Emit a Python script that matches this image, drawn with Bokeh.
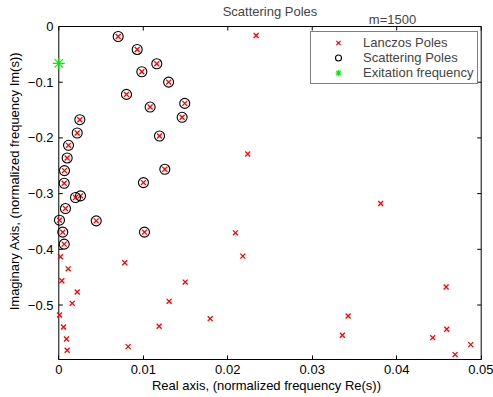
import math
from bokeh.plotting import figure
from bokeh.models import Range1d, Legend, LegendItem, Label, FixedTicker
from bokeh.embed import file_html
from bokeh.resources import INLINE

# Scattering poles (circled; also Lanczos poles)
scat_re = [0.00703, 0.00928, 0.0116, 0.00983, 0.0130, 0.00801, 0.01081, 0.01491, 0.0146,
           0.01192, 0.01255, 0.01002, 0.00249, 0.00218, 0.00115, 0.00099, 0.00067, 0.00064,
           0.00198, 0.00257, 0.00079, 0.00008, 0.00443, 0.00047, 0.01014, 0.00064]
scat_im = [-0.0179, -0.0412, -0.0669, -0.0812, -0.0998, -0.1219, -0.1446, -0.138, -0.163,
           -0.1966, -0.2563, -0.2802, -0.1673, -0.1912, -0.2133, -0.236, -0.2587, -0.2814,
           -0.307, -0.304, -0.3268, -0.3477, -0.3489, -0.3692, -0.3692, -0.3907]

# Additional Lanczos poles (not matched)
extra_re = [0.0002, 0.00111, 0.00036, 0.00218, 0.00159, 0.00008, 0.00056, 0.00091, 0.00099,
            0.00781, 0.00821, 0.01188, 0.01306, 0.01496, 0.01792, 0.02091, 0.02178, 0.0381,
            0.04585, 0.03425, 0.03357, 0.04426, 0.04592, 0.04876, 0.04691, 0.02336, 0.02237,
            0.0493]
extra_im = [-0.4134, -0.435, -0.4564, -0.4767, -0.497, -0.518, -0.5394, -0.561, -0.5812,
            -0.4242, -0.5747, -0.5382, -0.4934, -0.4588, -0.5245, -0.3704, -0.4122, -0.3178,
            -0.4677, -0.5197, -0.5543, -0.5586, -0.5436, -0.5711, -0.589, -0.0161, -0.2288,
            -0.025]

lanczos_re = scat_re + extra_re
lanczos_im = scat_im + extra_im

excite_re = [0.0]
excite_im = [-0.0663]

x_ticks = [0, 0.01, 0.02, 0.03, 0.04, 0.05]
x_tick_labels = ["0", "0.01", "0.02", "0.03", "0.04", "0.05"]
y_ticks = [0, -0.1, -0.2, -0.3, -0.4, -0.5]
y_tick_labels = ["0", "\u22120.1", "\u22120.2", "\u22120.3", "\u22120.4", "\u22120.5"]

# axes limits (box)
X_MIN, X_MAX = 0.0, 0.05
Y_MIN, Y_MAX = -0.5978, 0.0

title_text = "Scattering Poles"
note_text = "m=1500"
x_label = "Real axis, (normalized frequency Re(s))"
y_label = "Imaginary Axis, (normalized frequency Im(s))"

FONT = "Liberation Sans"

p = figure(width=493, height=397, output_backend="svg", toolbar_location=None,
           x_range=Range1d(-0.000982, 0.050154), y_range=Range1d(Y_MIN, 0.0431),
           min_border_left=50, min_border_right=11, min_border_top=2, min_border_bottom=38)

p.xgrid.visible = False
p.ygrid.visible = False
p.outline_line_color = None
p.background_fill_color = "white"
p.border_fill_color = "white"

def style_axis(ax, ticks, labels):
    ax.ticker = FixedTicker(ticks=ticks)
    ax.major_label_overrides = {t: l for t, l in zip(ticks, labels)}
    ax.minor_tick_line_color = None
    ax.major_tick_in = 4
    ax.major_tick_out = 0
    ax.axis_line_color = "black"
    ax.major_tick_line_color = "black"
    ax.major_label_text_font = FONT
    ax.major_label_text_font_size = "13px"
    ax.major_label_standoff = 5
    ax.major_label_text_color = "black"
    ax.axis_label_text_font = FONT
    ax.axis_label_text_font_size = "13px"
    ax.axis_label_text_font_style = "normal"
    ax.axis_label_text_color = "black"

xa = p.xaxis[0]
ya = p.yaxis[0]
style_axis(xa, x_ticks, x_tick_labels)
style_axis(ya, y_ticks, y_tick_labels)
xa.axis_label = x_label
ya.axis_label = y_label
xa.bounds = (X_MIN, X_MAX)
ya.bounds = (Y_MIN, Y_MAX)
xa.axis_label_standoff = 1
# left axis provides labels only; its rule and ticks are drawn at x = X_MIN below
ya.axis_line_color = None
ya.major_tick_line_color = None
ya.major_label_standoff = -3
ya.axis_label_standoff = 3

# remaining box sides and inward ticks (left, top and right)
p.segment(x0=[X_MIN], y0=[Y_MIN], x1=[X_MIN], y1=[Y_MAX], line_color="black", line_width=1)
p.segment(x0=[X_MIN], y0=[Y_MAX], x1=[X_MAX], y1=[Y_MAX], line_color="black", line_width=1)
p.segment(x0=[X_MAX], y0=[Y_MIN], x1=[X_MAX], y1=[Y_MAX], line_color="black", line_width=1)
p.ray(x=[X_MIN] * len(y_ticks), y=y_ticks, length=4, length_units="screen",
      angle=0, line_color="black", line_width=1)
p.ray(x=x_ticks, y=[Y_MAX] * len(x_ticks), length=4, length_units="screen",
      angle=-math.pi / 2, line_color="black", line_width=1)
p.ray(x=[X_MAX] * len(y_ticks), y=y_ticks, length=4, length_units="screen",
      angle=math.pi, line_color="black", line_width=1)

r_lan = p.scatter(lanczos_re, lanczos_im, marker="x", size=7, line_color="red", line_width=1.3)
r_sc = p.scatter(scat_re, scat_im, marker="circle", size=10, fill_color=None,
                 line_color="black", line_width=1.1)
r_ex = p.scatter(excite_re, excite_im, marker="asterisk", size=12, line_color="#00ee00",
                 line_width=1.2)

legend = Legend(items=[LegendItem(label="Lanczos Poles", renderers=[r_lan]),
                       LegendItem(label="Scattering Poles", renderers=[r_sc]),
                       LegendItem(label="Exitation frequency", renderers=[r_ex])],
                location=(260, 275))
legend.label_text_font = FONT
legend.label_text_font_size = "13px"
legend.border_line_color = "black"
legend.border_line_width = 1
legend.background_fill_alpha = 1
legend.margin = 0
legend.padding = 3
legend.spacing = 0
legend.label_height = 15
legend.glyph_height = 15
legend.glyph_width = 48
legend.label_standoff = 1
p.add_layout(legend)

title_label = Label(x=(X_MIN + X_MAX) / 2, y=0.0269, x_units="data", y_units="data",
                    text=title_text, text_font=FONT, text_font_size="13px",
                    text_align="center", text_baseline="middle")
p.add_layout(title_label)

m_label = Label(x=0.0395, y=0.0126, x_units="data", y_units="data", text=note_text,
                text_font=FONT, text_font_size="13px", text_align="center",
                text_baseline="middle")
p.add_layout(m_label)

open("out.html", "w").write(file_html(p, INLINE))
